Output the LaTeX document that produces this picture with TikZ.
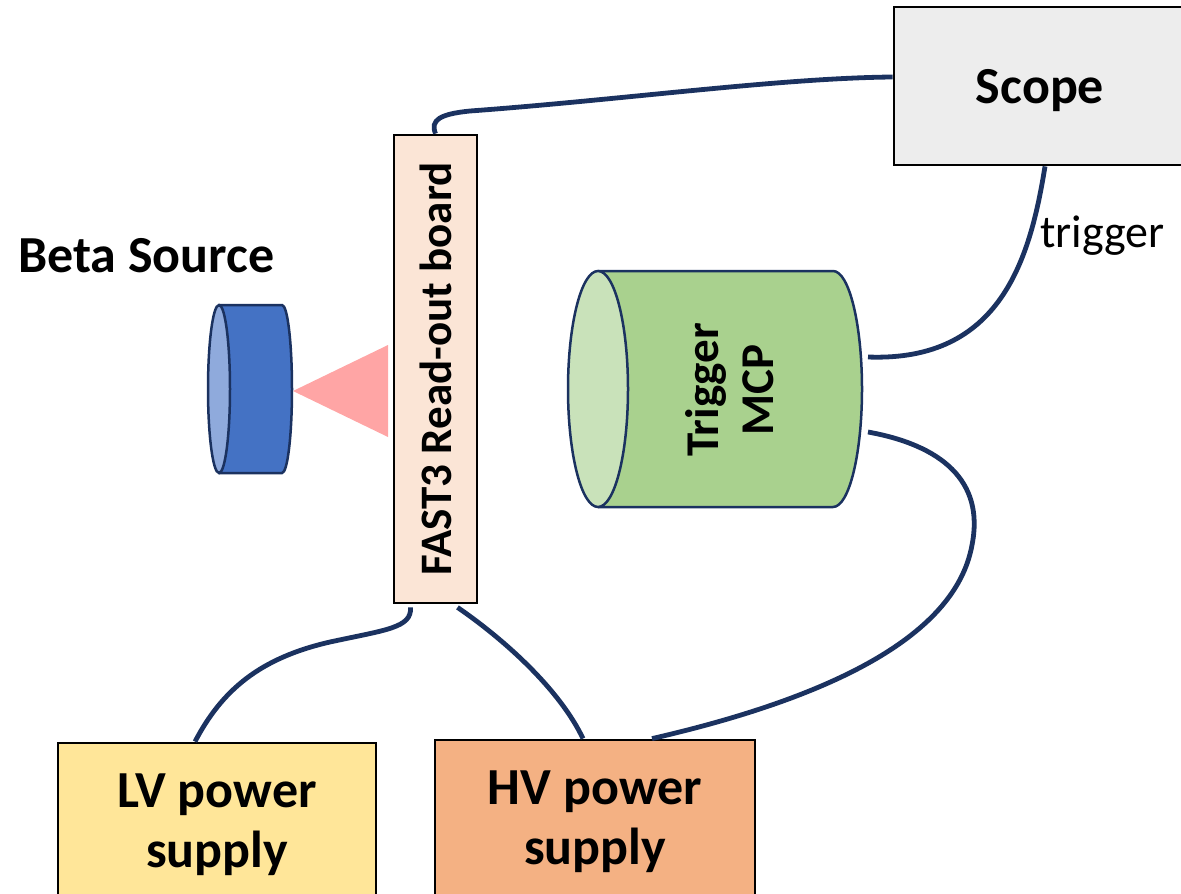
\documentclass[tikz,border=0pt]{standalone}
\usepackage{fontspec}
\setmainfont{Carlito}
\usepackage{tikz}
\definecolor{cable}{HTML}{1B3260}
\definecolor{scopebg}{HTML}{EDEDED}
\definecolor{boardbg}{HTML}{FBE5D6}
\definecolor{lvbg}{HTML}{FFE699}
\definecolor{hvbg}{HTML}{F4B183}
\definecolor{mcpbody}{HTML}{A9D18E}
\definecolor{mcpface}{HTML}{C9E2BA}
\definecolor{srcbody}{HTML}{4472C4}
\definecolor{srcface}{HTML}{8FAADC}
\definecolor{beam}{HTML}{FFA5A5}

\begin{document}
\begin{tikzpicture}[x=1pt,y=1pt,
   bx/.style={draw=black,line width=2.8pt,align=center,inner sep=0pt,font=\bfseries\fontsize{52}{60}\selectfont},
   cb/.style={draw=cable,line width=4.8pt},
   cyl/.style={draw=cable,line width=2.5pt}]
  \useasboundingbox (0,0) rectangle (1181,-894);
  \clip (0,0) rectangle (1181,-894);
  \node[bx,fill=scopebg,minimum width=292pt,minimum height=158pt,text depth=0pt] (scope) at (1040,-86) {Scope};
  \node[bx,fill=boardbg,rotate=90,minimum width=468pt,minimum height=83pt,
     font=\bfseries\fontsize{45}{50}\selectfont] (board) at (435.5,-369) {FAST3 Read-out board};
  \node[bx,fill=lvbg,minimum width=318pt,minimum height=164pt] (lv) at (217,-825) {LV power\\supply};
  \node[bx,fill=hvbg,minimum width=320pt,minimum height=164pt] (hv) at (595,-822) {HV power\\supply};
  \node[anchor=base west,inner sep=0pt,font=\bfseries\fontsize{52}{60}\selectfont] (srclbl) at (18,-272) {Beta Source};
  \node[anchor=base west,inner sep=0pt,font=\fontsize{46}{52}\selectfont] (triglbl) at (1040,-247) {trigger};
  \fill[beam] (293,-391) -- (388,-345) -- (388,-437) -- cycle;
  \draw[cyl,fill=srcbody] (219,-305) -- (282,-305) arc[start angle=90,end angle=-90,x radius=10,y radius=84] -- (219,-473);
  \draw[cyl,fill=srcface] (219,-389) ellipse[x radius=11,y radius=84];
  \draw[cyl,fill=mcpbody] (598,-271) -- (833,-271) arc[start angle=90,end angle=-90,x radius=29,y radius=118] -- (598,-507);
  \draw[cyl,fill=mcpface] (598,-389) ellipse[x radius=30,y radius=118];
  \node[rotate=90,align=center,inner sep=0pt,font=\bfseries\fontsize{47}{55}\selectfont] (mcp) at (730,-390) {Trigger\\MCP};
  \coordinate (mcpup) at (868,-357);
  \coordinate (mcplo) at (868,-432);
  \draw[cb] (board.east) .. controls (430,-120) and (440,-114) .. (470,-111)
     .. controls (620,-100) and (780,-78) .. ([yshift=9pt]scope.west);
  \draw[cb] ([xshift=5pt]scope.south) .. controls (1030,-260) and (1000,-362) .. (mcpup);
  \draw[cb] (mcplo) .. controls (940,-445) and (985,-480) .. (972,-545)
     .. controls (955,-640) and (820,-700) .. ([xshift=57pt]hv.north);
  \draw[cb] ([xshift=-25pt,yshift=-3pt]board.west) .. controls (412,-628) and (385,-630) .. (330,-642)
     .. controls (260,-658) and (222,-690) .. ([xshift=-22pt]lv.north);
  \draw[cb] ([xshift=22pt,yshift=-3pt]board.west) .. controls (505,-640) and (560,-690) .. ([xshift=-12pt]hv.north);
\end{tikzpicture}
\end{document}
